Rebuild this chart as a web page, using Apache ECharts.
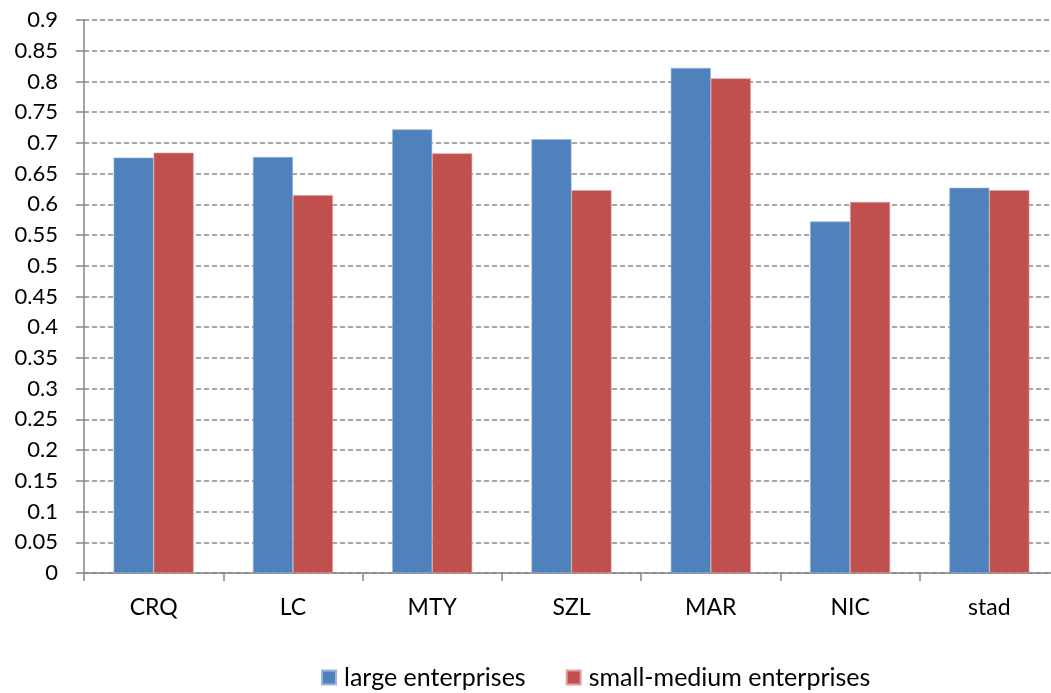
<!DOCTYPE html>
<html>
<head>
<meta charset="utf-8">
<script src="https://cdn.jsdelivr.net/npm/echarts@6/dist/echarts.min.js"></script>
<style>
  html, body { margin: 0; padding: 0; background: #fff; overflow: hidden; }
  #chart { width: 1070px; height: 693px; }
</style>
</head>
<body>
<div id="chart"></div>
<script>
// Regions compared
const categories = ['CRQ', 'LC', 'MTY', 'SZL', 'MAR', 'NIC', 'stad'];
// Scores by enterprise size
const largeEnterprises = [0.676, 0.677, 0.722, 0.706, 0.822, 0.572, 0.627];
const smallMediumEnterprises = [0.684, 0.615, 0.683, 0.623, 0.805, 0.604, 0.623];
const seriesNames = ['large enterprises', 'small-medium enterprises'];

const FONT = 'Lato, "Open Sans", sans-serif';
const chart = echarts.init(document.getElementById('chart'), null, { renderer: 'canvas' });

chart.setOption({
  animation: false,
  backgroundColor: '#ffffff',
  textStyle: { fontFamily: FONT },
  legend: {
    data: seriesNames,
    left: 316,
    top: 660,
    itemWidth: 14,
    itemHeight: 14,
    itemGap: 40,
    icon: 'rect',
    textStyle: { fontSize: 25, color: '#000', fontFamily: FONT, padding: [0, 0, 0, 3] }
  },
  grid: {
    left: 84,
    top: 20,
    width: 975,
    height: 553,
    containLabel: false
  },
  xAxis: {
    type: 'category',
    data: categories,
    boundaryGap: true,
    axisLine: { lineStyle: { color: '#868686', width: 1.5 } },
    axisTick: { show: true, length: 8, alignWithLabel: false, lineStyle: { color: '#868686', width: 1.5 } },
    axisLabel: { fontSize: 23, color: '#000', margin: 23, fontFamily: FONT },
    splitLine: { show: false }
  },
  yAxis: {
    type: 'value',
    min: 0,
    max: 0.9,
    interval: 0.05,
    axisLine: { show: true, lineStyle: { color: '#868686', width: 1.5 } },
    axisTick: { show: true, length: 8, lineStyle: { color: '#868686', width: 1.5 } },
    axisLabel: {
      fontSize: 22,
      color: '#000',
      margin: 26,
      fontFamily: FONT,
      formatter: v => String(parseFloat(v.toFixed(2)))
    },
    splitLine: { show: true, lineStyle: { color: '#8a8a8a', width: 1.5, type: [5, 3] } }
  },
  series: [
    {
      name: seriesNames[0],
      type: 'bar',
      data: largeEnterprises,
      barWidth: 40,
      barGap: '0%',
      itemStyle: { color: '#4F81BD', borderColor: '#9bb5dc', borderWidth: 0.6 }
    },
    {
      name: seriesNames[1],
      type: 'bar',
      data: smallMediumEnterprises,
      barWidth: 40,
      barGap: '0%',
      itemStyle: { color: '#C0504D', borderColor: '#e0a09e', borderWidth: 0.6 }
    }
  ]
});
</script>
</body>
</html>
